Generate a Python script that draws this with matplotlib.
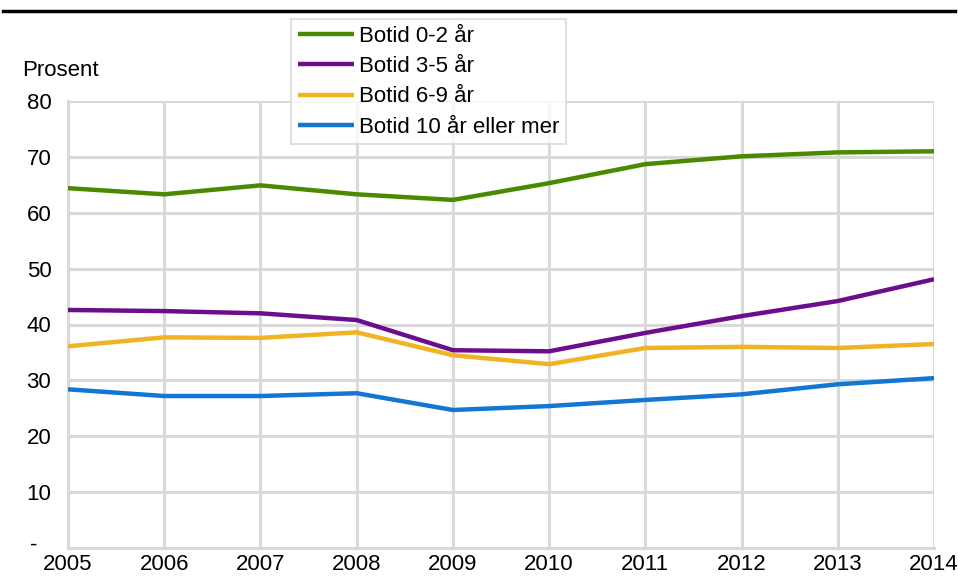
import matplotlib
matplotlib.use("Agg")
import matplotlib.pyplot as plt

years = [2005, 2006, 2007, 2008, 2009, 2010, 2011, 2012, 2013, 2014]
series_names = ["Botid 0-2 år", "Botid 3-5 år", "Botid 6-9 år", "Botid 10 år eller mer"]
botid_0_2 = [64.4, 63.3, 64.9, 63.3, 62.3, 65.3, 68.7, 70.1, 70.8, 71.0]
botid_3_5 = [42.6, 42.4, 42.0, 40.8, 35.4, 35.2, 38.5, 41.5, 44.2, 48.1]
botid_6_9 = [36.1, 37.7, 37.6, 38.6, 34.5, 32.9, 35.8, 36.0, 35.8, 36.5]
botid_10 = [28.4, 27.2, 27.2, 27.7, 24.7, 25.4, 26.5, 27.5, 29.3, 30.4]
y_ticks = [0, 10, 20, 30, 40, 50, 60, 70, 80]
y_tick_labels = ["-", "10", "20", "30", "40", "50", "60", "70", "80"]
colors = ["#4A8A00", "#6C0D8C", "#F0B323", "#1177D2"]

plt.rcParams['font.family'] = ['Liberation Sans', 'DejaVu Sans']
FS = 16

W, H = 958, 577
fig = plt.figure(figsize=(W / 100, H / 100), dpi=100)
left, right, top, bottom = 68, 934, 101, 548
ax = fig.add_axes([left / W, 1 - bottom / H, (right - left) / W, (bottom - top) / H])

for vals, name, c in zip([botid_0_2, botid_3_5, botid_6_9, botid_10], series_names, colors):
    ax.plot(years, vals, color=c, lw=3.2, label=name, solid_capstyle='butt', zorder=3)

ax.set_xlim(years[0], years[-1])
ax.set_ylim(0, 80)
ax.set_xticks(years)
ax.set_xticklabels([str(y) for y in years], fontsize=FS)
ax.set_yticks(y_ticks)
ax.set_yticklabels([""] + y_tick_labels[1:], fontsize=FS)
ax.grid(True, color="#d9d9d9", lw=2.2, zorder=0)
for s in ["top", "right"]:
    ax.spines[s].set_visible(False)
for s in ["left", "bottom"]:
    ax.spines[s].set_color("#d9d9d9")
    ax.spines[s].set_linewidth(2.2)
ax.tick_params(length=0)
ax.tick_params(axis='x', pad=4)
ax.tick_params(axis='y', pad=12)

# zero label "-" drawn just above the axis origin, like the reference
fig.text(34 / W, 1 - 551 / H, y_tick_labels[0], fontsize=FS, va='baseline', ha='center')

fig.text(22 / W, 1 - 71 / H, "Prosent", fontsize=FS, va='center', ha='left')

# header rule
fig.add_artist(plt.Line2D([3 / W, 955 / W], [1 - 11 / H, 1 - 11 / H], color="black", lw=2.5))

leg = fig.legend(loc='upper left', bbox_to_anchor=(291 / W, 1 - 19 / H), fontsize=FS,
                 frameon=True, fancybox=False, handlelength=2.55, handletextpad=0.2,
                 labelspacing=0.42, borderpad=0.3, borderaxespad=0)
leg.get_frame().set_edgecolor("#d9d9d9")
leg.get_frame().set_linewidth(1.5)

fig.savefig("out.png", dpi=100)
